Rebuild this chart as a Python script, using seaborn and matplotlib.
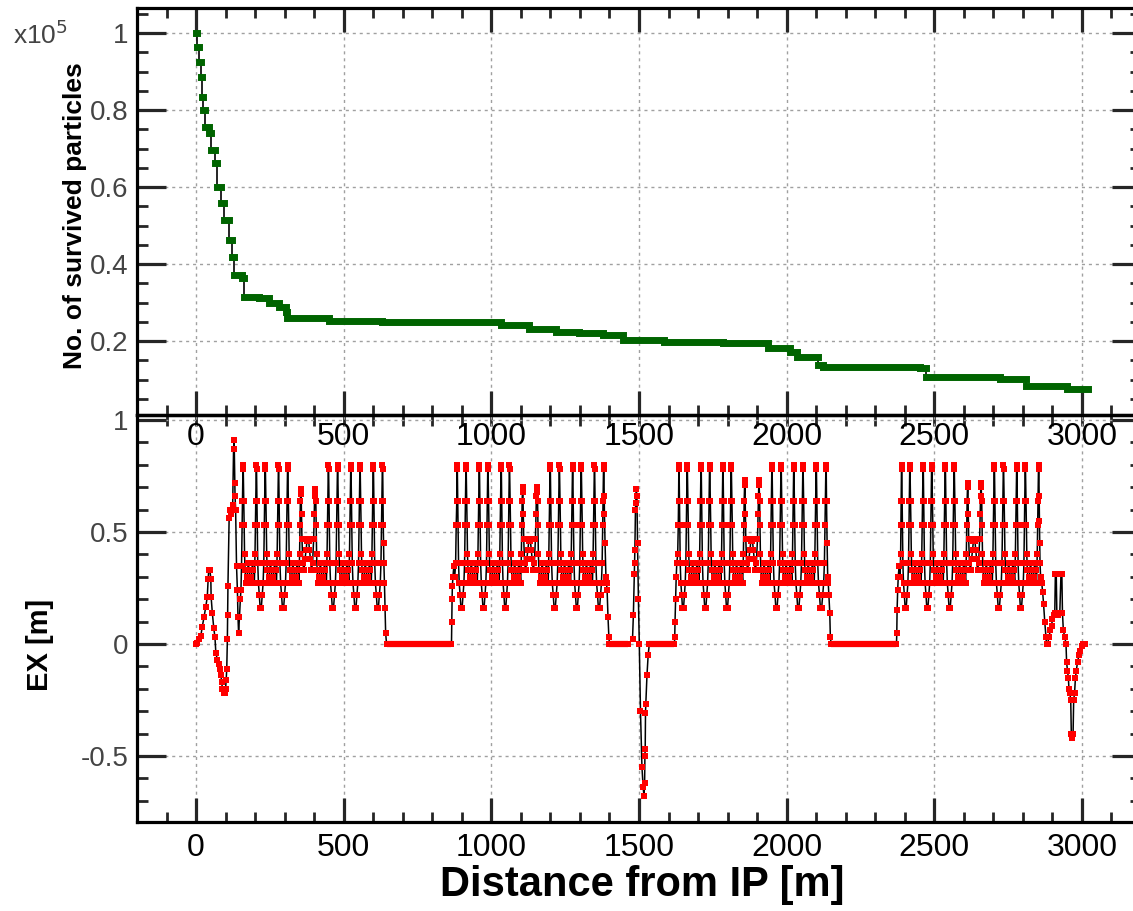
import matplotlib
matplotlib.use("Agg")
import matplotlib.pyplot as plt
from matplotlib.ticker import MultipleLocator, FuncFormatter
import seaborn as sns
import pandas as pd

# ---------------- data: survived particles (x1e5) vs distance ----------------
SURV_S = [0, 4, 10, 16, 19, 24, 30, 44, 50, 64, 72, 84, 95, 112, 123, 129, 157, 163,
          213, 247, 281, 304, 309, 451, 631, 1033, 1129, 1219, 1298, 1377, 1445, 1586,
          1783, 1937, 2010, 2034, 2105, 2122, 2451, 2473, 2722, 2810, 2950, 3020]
SURV_N = [1.0, 0.964, 0.925, 0.886, 0.835, 0.80, 0.757, 0.74, 0.696, 0.662, 0.60, 0.558,
          0.514, 0.462, 0.419, 0.371, 0.363, 0.315, 0.311, 0.30, 0.289, 0.276, 0.26, 0.253,
          0.249, 0.2416, 0.2303, 0.224, 0.220, 0.2156, 0.2026, 0.198, 0.194, 0.181, 0.172,
          0.159, 0.138, 0.132, 0.130, 0.107, 0.102, 0.084, 0.076, 0.076]

# ---------------- data: dispersion EX [m] ----------------
START_S = [0, 4, 10, 16, 21, 27, 33, 38, 41, 43, 47, 50, 51, 55, 60, 64, 67, 72, 76, 80,
           84, 87, 89, 93, 97, 100, 102, 104, 106, 107, 108, 112, 116, 120, 124, 127, 129,
           131, 132, 134, 137, 140, 142, 144, 147, 150, 152, 154, 156, 157]
START_EX = [0, 0.005, 0.02, 0.035, 0.077, 0.12, 0.167, 0.21, 0.29, 0.33, 0.33, 0.29, 0.21,
            0.14, 0.07, 0.03, -0.04, -0.07, -0.09, -0.11, -0.14, -0.17, -0.20, -0.22, -0.22,
            -0.20, -0.16, -0.11, 0.02, 0.13, 0.26, 0.56, 0.60, 0.58, 0.62, 0.87, 0.91, 0.72,
            0.66, 0.60, 0.35, 0.24, 0.12, 0.05, 0.12, 0.20, 0.24, 0.35, 0.53, 0.64]

# cell segment shapes between two neighbouring peaks (relative position, EX)
HOVER_U = [0.04, 0.07, 0.10, 0.14, 0.22, 0.30, 0.38, 0.46, 0.54, 0.62, 0.70, 0.78, 0.85, 0.90, 0.93, 0.96]
HOVER_EX = [0.64, 0.53, 0.40, 0.33, 0.27, 0.30, 0.36, 0.33, 0.27, 0.30, 0.36, 0.33, 0.27, 0.40, 0.53, 0.64]
DIP_U = [0.05, 0.09, 0.14, 0.22, 0.32, 0.42, 0.55, 0.66, 0.76, 0.84, 0.90, 0.94]
DIP_EX = [0.64, 0.53, 0.36, 0.27, 0.22, 0.16, 0.16, 0.22, 0.27, 0.36, 0.53, 0.64]
BUMP_U = [0.03, 0.06, 0.12, 0.20, 0.28, 0.36, 0.42, 0.48, 0.54, 0.60, 0.66, 0.74, 0.82, 0.90, 0.94, 0.97]
BUMP_EX = [0.58, 0.47, 0.36, 0.33, 0.38, 0.42, 0.46, 0.47, 0.46, 0.42, 0.38, 0.33, 0.36, 0.47, 0.58, 0.66]

ARC1_PEAKS = [159, 204, 234, 279, 310, 355, 403, 448, 479, 524, 555, 600, 631]
ARC1_H = [0.80, 0.80, 0.80, 0.80, 0.80, 0.69, 0.69, 0.80, 0.80, 0.80, 0.80, 0.80, 0.80]
ARC1_SEG = "HDHDHBHDHDHD"
ARC2_PEAKS = [884, 914, 959, 988, 1033, 1061, 1106, 1154, 1199, 1230, 1275, 1304, 1349, 1380]
ARC2_H = [0.80, 0.80, 0.80, 0.80, 0.80, 0.80, 0.70, 0.70, 0.80, 0.80, 0.80, 0.80, 0.80, 0.80]
ARC2_SEG = "DHDHDHBHDHDHD"
ARC3_PEAKS = [1635, 1663, 1710, 1739, 1784, 1812, 1858, 1906, 1950, 1981, 2024, 2055, 2100, 2133]
ARC3_H = [0.80, 0.80, 0.80, 0.80, 0.80, 0.80, 0.73, 0.73, 0.80, 0.80, 0.80, 0.80, 0.80, 0.80]
ARC3_SEG = "DHDHDHBHDHDHD"
ARC4_PEAKS = [2389, 2417, 2462, 2491, 2537, 2567, 2613, 2658, 2703, 2734, 2779, 2808, 2853]
ARC4_H = [0.80, 0.80, 0.80, 0.80, 0.80, 0.80, 0.72, 0.72, 0.80, 0.80, 0.80, 0.80, 0.80]
ARC4_SEG = "DHDHDHBHDHDH"

EXIT1_S = [632, 633, 634, 635, 636, 638, 640, 642, 645, 648]
EXIT1_EX = [0.78, 0.64, 0.53, 0.45, 0.36, 0.27, 0.16, 0.05, 0.0, 0.0]
IN2_S = [865, 866, 867, 868, 870, 873, 876, 879, 881, 883]
IN2_EX = [0.0, 0.10, 0.20, 0.26, 0.30, 0.35, 0.30, 0.36, 0.53, 0.64]
EXIT2_S = [1381, 1382, 1383, 1385, 1388, 1390, 1392, 1395, 1398, 1400]
EXIT2_EX = [0.78, 0.66, 0.58, 0.45, 0.30, 0.27, 0.24, 0.12, 0.03, 0.0]
SPIKE_S = [1462, 1478, 1481, 1484, 1485, 1486, 1488, 1489, 1491, 1493, 1495, 1498, 1501,
           1505, 1510, 1514, 1517, 1519, 1520, 1521, 1522, 1523, 1527, 1531, 1535]
SPIKE_EX = [0.0, 0.02, 0.13, 0.31, 0.36, 0.42, 0.60, 0.63, 0.69, 0.66, 0.45, 0.20, 0.0,
            -0.30, -0.55, -0.64, -0.68, -0.62, -0.50, -0.47, -0.31, -0.27, -0.14, -0.05, 0.0]
IN3_S = [1620, 1621, 1622, 1624, 1626, 1628, 1631, 1633, 1634]
IN3_EX = [0.0, 0.03, 0.10, 0.20, 0.30, 0.36, 0.40, 0.53, 0.64]
EXIT3_S = [2134, 2135, 2137, 2139, 2141, 2143, 2146, 2148, 2151]
EXIT3_EX = [0.78, 0.64, 0.45, 0.30, 0.27, 0.22, 0.14, 0.03, 0.0]
IN4_S = [2372, 2373, 2374, 2376, 2378, 2381, 2384, 2386, 2387, 2388]
IN4_EX = [0.0, 0.05, 0.15, 0.24, 0.30, 0.35, 0.30, 0.40, 0.53, 0.64]
END_S = [2854, 2855, 2856, 2857, 2858, 2860, 2864, 2867, 2870, 2874, 2878, 2880, 2884, 2888,
         2893, 2897, 2900, 2904, 2908, 2910, 2913, 2915, 2920, 2925, 2929, 2932, 2934, 2937,
         2942, 2946, 2948, 2951, 2954, 2956, 2959, 2962, 2964, 2967, 2970, 2972, 2975, 2978,
         2981, 2985, 2990, 2995, 3000, 3005, 3012]
END_EX = [0.78, 0.66, 0.55, 0.45, 0.36, 0.30, 0.27, 0.23, 0.18, 0.10, 0.03, 0.0, 0.0, 0.03,
          0.06, 0.08, 0.11, 0.13, 0.14, 0.31, 0.31, 0.14, 0.13, 0.14, 0.31, 0.31, 0.14, 0.06,
          0.03, 0.0, -0.08, -0.12, -0.15, -0.20, -0.22, -0.25, -0.40, -0.42, -0.40, -0.25,
          -0.22, -0.15, -0.12, -0.08, -0.05, -0.03, -0.01, 0.0, 0.0]

DRIFT_FROM = [648, 1400, 1535, 2151]
DRIFT_TO = [865, 1462, 1620, 2372]

TEMPLATES = {"H": (HOVER_U, HOVER_EX), "D": (DIP_U, DIP_EX), "B": (BUMP_U, BUMP_EX)}


def arc_points(peaks, heights, segs):
    xs, ys = [], []
    for i, (p, h) in enumerate(zip(peaks, heights)):
        xs += [p, p + 0.8]
        ys += [h, h - 0.02]
        if i < len(segs):
            u, e = TEMPLATES[segs[i]]
            a, b = p + 0.8, peaks[i + 1]
            xs += [a + (b - a) * t for t in u]
            ys += list(e)
    return xs, ys


parts = [(START_S, START_EX), arc_points(ARC1_PEAKS, ARC1_H, ARC1_SEG), (EXIT1_S, EXIT1_EX),
         (IN2_S, IN2_EX), arc_points(ARC2_PEAKS, ARC2_H, ARC2_SEG), (EXIT2_S, EXIT2_EX),
         (SPIKE_S, SPIKE_EX), (IN3_S, IN3_EX), arc_points(ARC3_PEAKS, ARC3_H, ARC3_SEG),
         (EXIT3_S, EXIT3_EX), (IN4_S, IN4_EX), arc_points(ARC4_PEAKS, ARC4_H, ARC4_SEG),
         (END_S, END_EX)]
ex_s, ex_v = [], []
for xs, ys in parts:
    ex_s += list(xs)
    ex_v += list(ys)
df_ex = pd.DataFrame({"s": ex_s, "ex": ex_v})
df_surv = pd.DataFrame({"s": SURV_S, "n": SURV_N})

# ---------------- styling ----------------
sns.set_style("white")
plt.rcParams["font.family"] = ["Liberation Sans", "DejaVu Sans"]
plt.rcParams["axes.unicode_minus"] = False

W, H = 1133, 911
fig = plt.figure(figsize=(W / 100, H / 100), dpi=100)
L, R = 137, 1141
ax2 = fig.add_axes([L / W, 1 - 822 / H, (R - L) / W, (822 - 415) / H])
ax1 = fig.add_axes([L / W, 1 - 415 / H, (R - L) / W, (415 - 8) / H])
ax1.set_zorder(3)
ax1.patch.set_visible(False)

GREEN = "#006400"
GRAYTXT = "#444444"
fmt = FuncFormatter(lambda v, p: "%g" % round(v, 3))

# top panel
sns.lineplot(data=df_surv, x="s", y="n", ax=ax1, color="black", lw=1.2,
             drawstyle="steps-post", estimator=None, sort=False, zorder=3)
ax1.hlines(df_surv["n"][:-1], df_surv["s"][:-1], df_surv["s"][1:], color=GREEN,
           lw=5, capstyle="projecting", zorder=4)
ax1.set_xlim(-200, 3200)
ax1.set_ylim(0.0078, 1.065)

# bottom panel
sns.lineplot(data=df_ex, x="s", y="ex", ax=ax2, color="black", lw=1.1,
             estimator=None, sort=False, zorder=3)
ax2.hlines([0] * len(DRIFT_FROM), DRIFT_FROM, DRIFT_TO, color="red", lw=4.5, zorder=4)
sns.scatterplot(data=df_ex, x="s", y="ex", ax=ax2, color="red", marker="s", s=22,
                linewidth=0, zorder=5)
ax2.set_xlim(-200, 3200)
ax2.set_ylim(-0.795, 1.022)

for ax in (ax1, ax2):
    ax.set_xlabel("")
    ax.set_ylabel("")
    ax.xaxis.set_major_locator(MultipleLocator(500))
    ax.xaxis.set_minor_locator(MultipleLocator(100))
    ax.yaxis.set_major_formatter(fmt)
    ax.grid(True, which="major", color="#a0a0a0", lw=1.0, ls=(0, (2.2, 2.8)))
    ax.set_axisbelow(True)
    for sp in ax.spines.values():
        sp.set_linewidth(2.3)
        sp.set_color("black")
    ax.tick_params(axis="y", which="major", direction="in", length=21, width=2.3,
                   left=True, right=True, labelsize=20, labelcolor=GRAYTXT, pad=6)
    ax.tick_params(axis="y", which="minor", direction="in", length=8, width=2.0,
                   left=True, right=True)

ax1.yaxis.set_major_locator(MultipleLocator(0.2))
ax1.yaxis.set_minor_locator(MultipleLocator(0.05))
ax2.yaxis.set_major_locator(MultipleLocator(0.5))
ax2.yaxis.set_minor_locator(MultipleLocator(0.1))

ax1.tick_params(axis="x", which="major", direction="in", length=17, width=2.3,
                top=True, bottom=True, labelsize=23, labelcolor="black", pad=5)
ax1.tick_params(axis="x", which="minor", direction="in", length=7, width=2.0,
                top=True, bottom=True)
ax2.tick_params(axis="x", which="major", direction="in", length=17, width=2.3,
                top=False, bottom=True, labelsize=23, labelcolor="black", pad=8)
ax2.tick_params(axis="x", which="minor", direction="in", length=7, width=2.0,
                top=False, bottom=True)
sec = ax2.secondary_xaxis("top")
sec.xaxis.set_major_locator(MultipleLocator(500))
sec.xaxis.set_minor_locator(MultipleLocator(100))
sec.tick_params(which="both", direction="in", length=8, width=2.0, labeltop=False)
sec.spines["top"].set_linewidth(2.3)

# texts
fig.text(75 / W, 1 - 216 / H, "No. of survived particles", rotation=90, ha="center",
         va="center", fontsize=19, fontweight="bold", color="black")
fig.text(40 / W, 1 - 645 / H, "EX [m]", rotation=90, ha="center", va="center",
         fontsize=21, fontweight="bold", color="black")
fig.text(642 / W, 1 - 885 / H, "Distance from IP [m]", ha="center", va="center",
         fontsize=30, fontweight="bold", color="black")
fig.text(13 / W, 1 - 35 / H, r"x10$^5$", ha="left", va="center", fontsize=19, color=GRAYTXT)

fig.savefig("out.png", dpi=100)
